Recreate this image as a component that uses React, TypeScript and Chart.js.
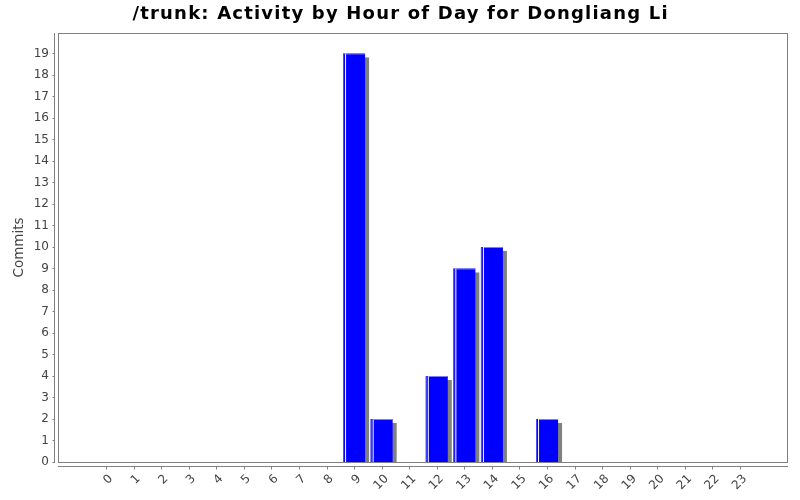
import React, { useEffect, useRef } from 'react';
import { Chart, registerables } from 'chart.js';

Chart.register(...registerables);

const hours = [0, 1, 2, 3, 4, 5, 6, 7, 8, 9, 10, 11, 12, 13, 14, 15, 16, 17, 18, 19, 20, 21, 22, 23];
const hourLabels = ['0', '1', '2', '3', '4', '5', '6', '7', '8', '9', '10', '11', '12', '13', '14', '15', '16', '17', '18', '19', '20', '21', '22', '23'];
const commits = [0, 0, 0, 0, 0, 0, 0, 0, 0, 19, 2, 0, 4, 9, 10, 0, 2, 0, 0, 0, 0, 0, 0, 0];
const yTickValues = [0, 1, 2, 3, 4, 5, 6, 7, 8, 9, 10, 11, 12, 13, 14, 15, 16, 17, 18, 19];

const TITLE = '/trunk: Activity by Hour of Day for Dongliang Li';
const AXIS_GRAY = '#808080';
const TEXT_GRAY = '#444444';

const jfreePlugin = {
  id: 'jfreeLook',
  beforeDatasetsDraw(chart: any) {
    const ctx = chart.ctx;
    const { left, right, top, bottom } = chart.chartArea;
    const meta = chart.getDatasetMeta(0);
    ctx.save();
    ctx.beginPath();
    ctx.rect(left, top, right - left, bottom - top);
    ctx.clip();
    ctx.fillStyle = '#808080';
    meta.data.forEach((bar: any) => {
      const { x, y, base, width } = bar.getProps(['x', 'y', 'base', 'width'], true);
      const h = base - y;
      if (h < 1) return;
      ctx.fillRect(x - width / 2 + 4, y + 4, width, Math.max(0, h - 4));
    });
    ctx.restore();
  },
  afterDatasetsDraw(chart: any) {
    const ctx = chart.ctx;
    const meta = chart.getDatasetMeta(0);
    ctx.save();
    meta.data.forEach((bar: any) => {
      const { x, y, base, width } = bar.getProps(['x', 'y', 'base', 'width'], true);
      const h = base - y;
      if (h < 1) return;
      const l = x - width / 2;
      ctx.fillStyle = '#5050ff';
      ctx.fillRect(l, y, 1, h);
      ctx.fillStyle = '#ffffff';
      ctx.fillRect(l + 2, y, 1, h);
      ctx.fillStyle = '#8080ff';
      ctx.fillRect(l + 3, y, width - 3, 1);
    });
    ctx.restore();
  },
  afterDraw(chart: any) {
    const ctx = chart.ctx;
    const { left, right, top, bottom } = chart.chartArea;
    const xs = chart.scales.x;
    const ys = chart.scales.y;
    ctx.save();
    // title
    ctx.fillStyle = '#000000';
    ctx.font = 'bold 18px "DejaVu Sans"';
    (ctx as any).letterSpacing = '1.2px';
    ctx.textAlign = 'center';
    ctx.textBaseline = 'middle';
    ctx.fillText(TITLE, chart.width / 2 + 0.6, 14);
    (ctx as any).letterSpacing = '0px';

    ctx.strokeStyle = AXIS_GRAY;
    ctx.lineWidth = 1;
    // plot outline
    ctx.strokeRect(left + 0.5, top + 0.5, right - left - 1, bottom - top);
    // y axis line
    const ax = left - 4 + 0.5;
    ctx.beginPath();
    ctx.moveTo(ax, top);
    ctx.lineTo(ax, bottom + 1);
    yTickValues.forEach((v) => {
      const py = Math.round(ys.getPixelForValue(v)) + 0.5;
      ctx.moveTo(ax - 2, py);
      ctx.lineTo(ax, py);
    });
    // x axis line
    const ay = bottom + 4 + 0.5;
    ctx.moveTo(left, ay);
    ctx.lineTo(right, ay);
    hours.forEach((v) => {
      const px = Math.round(xs.getPixelForValue(v)) + 0.5;
      ctx.moveTo(px, ay);
      ctx.lineTo(px, ay + 3);
    });
    ctx.stroke();

    // x labels, rotated 45 degrees
    ctx.fillStyle = TEXT_GRAY;
    ctx.font = '12px "DejaVu Sans"';
    ctx.textAlign = 'right';
    ctx.textBaseline = 'middle';
    hours.forEach((v, i) => {
      const px = xs.getPixelForValue(v);
      ctx.save();
      ctx.translate(px + 5, bottom + 15);
      ctx.rotate(-Math.PI / 4);
      ctx.fillText(hourLabels[i], 0, 0);
      ctx.restore();
    });
    ctx.restore();
  },
};

export default function App() {
  const canvasRef = useRef<HTMLCanvasElement | null>(null);

  useEffect(() => {
    document.body.style.margin = '0';
    const canvas = canvasRef.current;
    if (!canvas) return;
    const chart = new Chart(canvas, {
      type: 'bar',
      data: {
        datasets: [
          {
            data: hours.map((h, i) => ({ x: h, y: commits[i] })),
            backgroundColor: '#0000ff',
            borderWidth: 0,
            inflateAmount: 0,
            barThickness: 22,
          },
        ],
      },
      options: {
        animation: false,
        responsive: false,
        maintainAspectRatio: false,
        devicePixelRatio: 1,
        layout: { padding: { left: 0, right: 12, top: 33, bottom: 0 } },
        plugins: {
          legend: { display: false },
          tooltip: { enabled: false },
          title: { display: false },
        },
        scales: {
          x: {
            type: 'linear',
            min: -1.74,
            max: 24.74,
            offset: false,
            afterBuildTicks: (s: any) => {
              s.ticks = hours.map((v) => ({ value: v }));
            },
            afterFit: (s: any) => {
              s.height = 38;
            },
            ticks: { display: false },
            grid: { display: false, drawTicks: false },
            border: { display: false },
          },
          y: {
            type: 'linear',
            min: 0,
            max: 19.95,
            afterBuildTicks: (s: any) => {
              s.ticks = yTickValues.map((v) => ({ value: v }));
            },
            afterFit: (s: any) => {
              s.width = 58;
            },
            ticks: {
              padding: 9,
              color: TEXT_GRAY,
              font: { family: 'DejaVu Sans', size: 12 },
              callback: (v: any) => String(v),
            },
            title: {
              display: true,
              text: 'Commits',
              color: TEXT_GRAY,
              font: { family: 'DejaVu Sans', size: 13.5 },
              padding: { top: 11, bottom: 0 },
            },
            grid: { display: false, drawTicks: false },
            border: { display: false },
          },
        },
      },
      plugins: [jfreePlugin],
    } as any);
    return () => chart.destroy();
  }, []);

  return <canvas ref={canvasRef} width={800} height={500} style={{ display: 'block' }} />;
}
